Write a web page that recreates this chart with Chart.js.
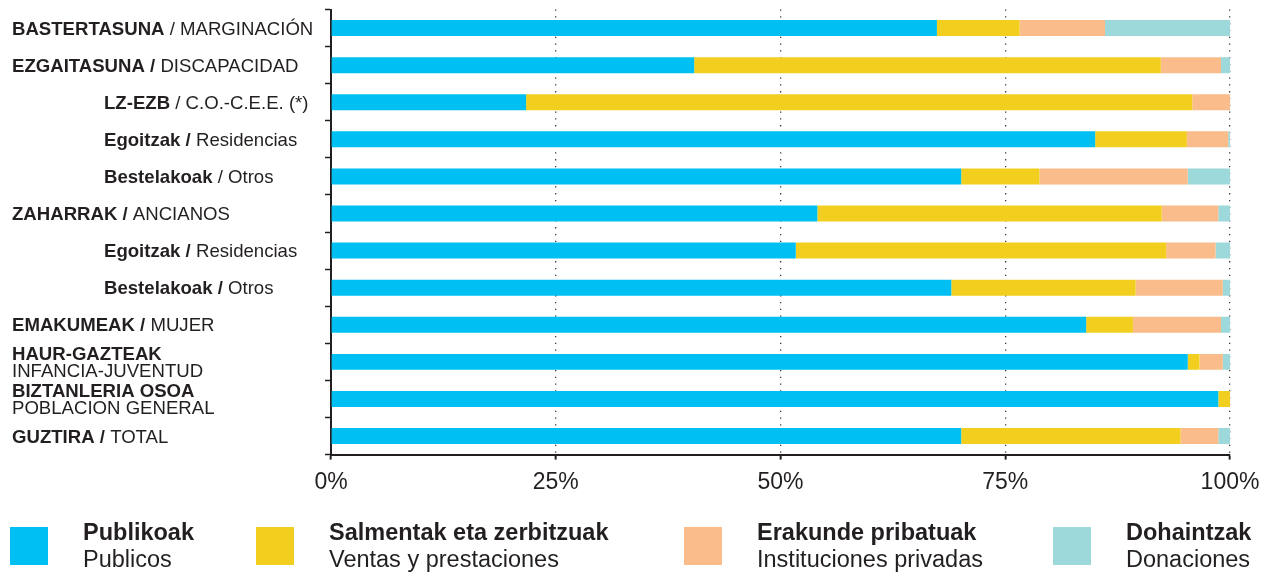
<!DOCTYPE html>
<html>
<head>
<meta charset="utf-8">
<script src="https://cdn.jsdelivr.net/npm/chart.js@4.4.1/dist/chart.umd.min.js"></script>
<style>
  html, body { margin: 0; padding: 0; background: #fff; }
  #wrap { width: 1279px; height: 576px; position: relative; }
</style>
</head>
<body>
<div id="wrap"><canvas id="chart"></canvas></div>
<script>
// category labels: bold part + regular part, level 1 = indented sub-item
const boldLabels = ['BASTERTASUNA', 'EZGAITASUNA /', 'LZ-EZB', 'Egoitzak /', 'Bestelakoak',
  'ZAHARRAK /', 'Egoitzak /', 'Bestelakoak /', 'EMAKUMEAK /', 'HAUR-GAZTEAK', 'BIZTANLERIA OSOA', 'GUZTIRA /'];
const plainLabels = ['/ MARGINACIÓN', 'DISCAPACIDAD', '/ C.O.-C.E.E. (*)', 'Residencias', '/ Otros',
  'ANCIANOS', 'Residencias', 'Otros', 'MUJER', 'INFANCIA-JUVENTUD', 'POBLACION GENERAL', 'TOTAL'];
const labelLevels = [0, 0, 1, 1, 1, 0, 1, 1, 0, 0, 0, 0];
const twoLineLabels = [false, false, false, false, false, false, false, false, false, true, true, false];

// series (percent of each row)
const seriesBold = ['Publikoak', 'Salmentak eta zerbitzuak', 'Erakunde pribatuak', 'Dohaintzak'];
const seriesPlain = ['Publicos', 'Ventas y prestaciones', 'Instituciones privadas', 'Donaciones'];
const seriesColors = ['#00bff3', '#f2cf1f', '#f9bc8a', '#9dd8da'];

const publicos   = [67.4, 40.4, 21.7, 85.0, 70.1, 54.1, 51.7, 69.0, 84.0, 95.3, 98.7, 70.1];
const ventas     = [ 9.2, 51.9, 74.1, 10.2,  8.7, 38.3, 41.2, 20.5,  5.2,  1.3,  1.3, 24.4];
const privadas   = [ 9.5,  6.7,  4.2,  4.6, 16.5,  6.3,  5.5,  9.7,  9.8,  2.6,  0.0,  4.2];
const donaciones = [13.9,  1.0,  0.0,  0.2,  4.7,  1.3,  1.6,  0.8,  1.0,  0.8,  0.0,  1.3];

const xTicks = [0, 25, 50, 75, 100];

const TEXT = '#231f20';
const FONT = '"Liberation Sans", Arial, Helvetica, sans-serif';
const LABEL_SIZE = 18.6;
const LEGEND_SIZE = 23.5;

Chart.defaults.font.family = FONT;

const categories = boldLabels.map((b, i) => b + ' ' + plainLabels[i]);
const seriesData = [publicos, ventas, privadas, donaciones];

// draws the mixed bold/regular category labels left of the axis
const categoryLabels = {
  id: 'categoryLabels',
  afterDraw(chart) {
    const { ctx } = chart;
    const y = chart.scales.y;
    ctx.save();
    ctx.fillStyle = TEXT;
    ctx.textAlign = 'left';
    ctx.textBaseline = 'alphabetic';
    boldLabels.forEach((bold, i) => {
      const cy = y.getPixelForValue(i);
      const x = labelLevels[i] ? 104 : 12;
      const boldFont = `bold ${LABEL_SIZE}px ${FONT}`;
      const plainFont = `${LABEL_SIZE}px ${FONT}`;
      ctx.font = boldFont;
      if (twoLineLabels[i]) {
        ctx.fillText(bold, x, cy - 1.5);
        ctx.font = plainFont;
        ctx.fillText(plainLabels[i], x, cy + 15);
      } else {
        const base = cy + 6.5;
        ctx.fillText(bold, x, base);
        const w = ctx.measureText(bold + ' ').width;
        ctx.font = plainFont;
        ctx.fillText(plainLabels[i], x + w, base);
      }
    });
    ctx.restore();
  }
};

// two-line legend below the chart
const legendX = [10, 256, 684, 1053];
const twoLineLegend = {
  id: 'twoLineLegend',
  afterDraw(chart) {
    const { ctx } = chart;
    ctx.save();
    ctx.textAlign = 'left';
    ctx.textBaseline = 'alphabetic';
    seriesBold.forEach((name, i) => {
      const x = legendX[i];
      ctx.fillStyle = seriesColors[i];
      ctx.fillRect(x, 527, 38, 38);
      ctx.fillStyle = TEXT;
      ctx.font = `bold ${LEGEND_SIZE}px ${FONT}`;
      ctx.fillText(name, x + 73, 539.5);
      ctx.font = `${LEGEND_SIZE}px ${FONT}`;
      ctx.fillText(seriesPlain[i], x + 73, 567);
    });
    ctx.restore();
  }
};

new Chart(document.getElementById('chart'), {
  type: 'bar',
  data: {
    labels: categories,
    datasets: seriesBold.map((name, i) => ({
      label: name + ' / ' + seriesPlain[i],
      data: seriesData[i],
      backgroundColor: seriesColors[i],
      borderWidth: 0,
      barPercentage: 1,
      categoryPercentage: 0.431,
    })),
  },
  options: {
    indexAxis: 'y',
    responsive: true,
    maintainAspectRatio: false,
    animation: false,
    layout: { padding: { top: 9.5, right: 49, left: 0, bottom: 0 } },
    plugins: {
      legend: { display: false },
      tooltip: { enabled: false },
    },
    scales: {
      x: {
        stacked: true,
        min: 0,
        max: 100,
        afterBuildTicks: (scale) => { scale.ticks = xTicks.map(v => ({ value: v })); },
        afterFit: (scale) => { scale.height = 121.4; },
        ticks: {
          callback: (v) => v + '%',
          font: { size: 23 },
          color: TEXT,
          padding: 9,
          maxRotation: 0,
        },
        grid: {
          color: (c) => (c.tick && c.tick.value === 0 ? 'rgba(0,0,0,0)' : '#3a3a3a'),
          lineWidth: 1.3,
          tickLength: 5,
          tickColor: TEXT,
          tickWidth: 2,
        },
        border: { display: true, color: TEXT, width: 2, dash: [1.3, 5.5] },
      },
      y: {
        stacked: true,
        afterFit: (scale) => { scale.width = 331; },
        ticks: { display: false },
        grid: {
          offset: true,
          drawOnChartArea: false,
          tickLength: 6,
          tickColor: TEXT,
          tickWidth: 1.5,
        },
        border: { display: true, color: TEXT, width: 2 },
      },
    },
  },
  plugins: [categoryLabels, twoLineLegend],
});
</script>
</body>
</html>
